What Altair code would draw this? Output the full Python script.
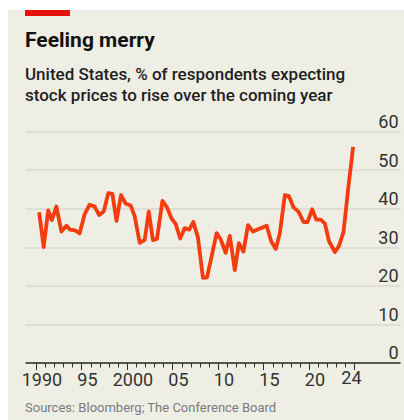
import altair as alt
import pandas as pd

# Share of US respondents expecting stock prices to rise over the coming year (%)
years = [
    1990.35, 1990.85, 1991.35, 1991.75, 1992.25, 1992.8, 1993.35, 1993.75, 1994.3, 1994.8,
    1995.35, 1995.9, 1996.45, 1996.95, 1997.45, 1997.95, 1998.4, 1998.85, 1999.35, 1999.85,
    2000.4, 2000.85, 2001.4, 2001.95, 2002.4, 2002.85, 2003.3, 2003.9, 2004.4, 2004.9,
    2005.35, 2005.85, 2006.35, 2006.85, 2007.3, 2007.8, 2008.35, 2008.8, 2009.3, 2009.85,
    2010.3, 2010.85, 2011.3, 2011.85, 2012.3, 2012.8, 2013.3, 2013.85, 2014.4, 2014.95,
    2015.35, 2015.85, 2016.35, 2016.8, 2017.35, 2017.8, 2018.3, 2018.85, 2019.4, 2019.85,
    2020.35, 2020.8, 2021.3, 2021.75, 2022.2, 2022.85, 2023.3, 2023.8, 2024.3, 2024.85,
]
share = [
    39.0, 30.0, 39.5, 37.0, 40.5, 34.0, 35.5, 34.5, 34.3, 33.5,
    38.5, 41.0, 40.5, 38.3, 39.2, 44.0, 43.8, 36.8, 43.5, 41.3,
    40.8, 38.0, 31.1, 31.8, 39.2, 31.8, 32.1, 42.0, 40.3, 37.4,
    36.0, 32.2, 34.9, 34.5, 36.5, 32.5, 22.0, 22.1, 27.5, 33.6,
    32.0, 28.5, 32.9, 24.0, 31.0, 28.8, 35.7, 34.0, 34.6, 35.1,
    35.5, 31.5, 29.5, 33.6, 43.5, 43.2, 40.3, 39.2, 36.5, 36.5,
    39.8, 37.1, 37.1, 36.1, 31.5, 28.7, 30.3, 34.0, 45.0, 56.0,
]

tick_years = list(range(1990, 2026))
label_years = [1990, 1995, 2000, 2005, 2010, 2015, 2020, 2024]
label_texts = ["1990", "95", "2000", "05", "10", "15", "20", "24"]
y_ticks = [0, 10, 20, 30, 40, 50, 60]

title = "Feeling merry"
subtitle = ["United States, % of respondents expecting",
            "stock prices to rise over the coming year"]
source = "Sources: Bloomberg; The Conference Board"

BG = "#efeee5"
RED = "#e3120b"
LINE = "#f43c0f"
INK = "#121212"
SANS = "Roboto, Liberation Sans, Arial"

W, H = 375, 231

df = pd.DataFrame({"year": years, "share": share})
one = pd.DataFrame({"k": [0]})

label_expr = " : ".join(
    f"datum.value == {y} ? '{t}'" for y, t in zip(label_years, label_texts)
) + " : ''"

x_enc = alt.X(
    "year:Q",
    scale=alt.Scale(domain=[1988.8, 2030], nice=False, zero=False),
    axis=alt.Axis(
        values=tick_years,
        labelExpr=label_expr,
        title=None,
        grid=False,
        domainColor="#2b2b2b",
        domainWidth=1.3,
        tickColor="#2b2b2b",
        tickWidth=1,
        tickSize={"condition": {"test": "datum.value % 5 === 0", "value": 7}, "value": 4.5},
        labelFont=SANS,
        labelFontSize=18,
        labelColor="#333333",
        labelOffset=5.5,
        labelPadding=2,
        labelBaseline="top",
        labelFlush=False,
        labelOverlap=False,
    ),
)
y_enc = alt.Y(
    "share:Q",
    scale=alt.Scale(domain=[0, 60], nice=False),
    axis=alt.Axis(
        orient="right",
        values=y_ticks,
        title=None,
        domain=False,
        ticks=False,
        tickSize=0,
        grid=True,
        gridColor="#cfcdc3",
        gridWidth=1,
        labelFont=SANS,
        labelFontSize=18,
        labelColor="#333333",
        labelAlign="right",
        labelBaseline="alphabetic",
        labelPadding=-2,
        labelOffset=-4,
    ),
)

line = alt.Chart(df).mark_line(color=LINE, strokeWidth=3.8, strokeJoin="round").encode(
    x=x_enc, y=y_enc
)

# white margin strips along the top and left edges, and the red tag
edge_top = alt.Chart(one).mark_rect(color="white").encode(
    x=alt.value(-25), x2=alt.value(379), y=alt.value(-131.5), y2=alt.value(-121.5)
)
edge_left = alt.Chart(one).mark_rect(color="white").encode(
    x=alt.value(-25), x2=alt.value(-17), y=alt.value(-131.5), y2=alt.value(288.5)
)
tag = alt.Chart(one).mark_rect(color=RED).encode(
    x=alt.value(0), x2=alt.value(45), y=alt.value(-121.5), y2=alt.value(-115.5)
)

title_t = alt.Chart(pd.DataFrame({"t": [title]})).mark_text(
    font=SANS, fontSize=21, fontWeight="bold", color=INK, align="left", baseline="alphabetic"
).encode(text="t:N", x=alt.value(0), y=alt.value(-84.8))

sub_t = alt.Chart(pd.DataFrame({"t": [subtitle]})).mark_text(
    font=SANS, fontSize=17, fontWeight=500, color="#1f1f1f", align="left",
    baseline="alphabetic", lineHeight=21
).encode(text="t", x=alt.value(0), y=alt.value(-51.5))

src_t = alt.Chart(pd.DataFrame({"t": [source]})).mark_text(
    font=SANS, fontSize=13, color="#7a7a7a", align="left", baseline="alphabetic"
).encode(text="t:N", x=alt.value(0), y=alt.value(280.5))

chart = alt.layer(line, edge_top, edge_left, tag, title_t, sub_t, src_t).properties(
    width=W,
    height=H,
    autosize=alt.AutoSizeParams(type="none"),
    padding={"left": 25, "top": 131.5, "right": 4, "bottom": 57.5},
    background=BG,
).configure_view(stroke=None)

chart.save("out.html", embed_options={"renderer": "svg", "actions": False})
